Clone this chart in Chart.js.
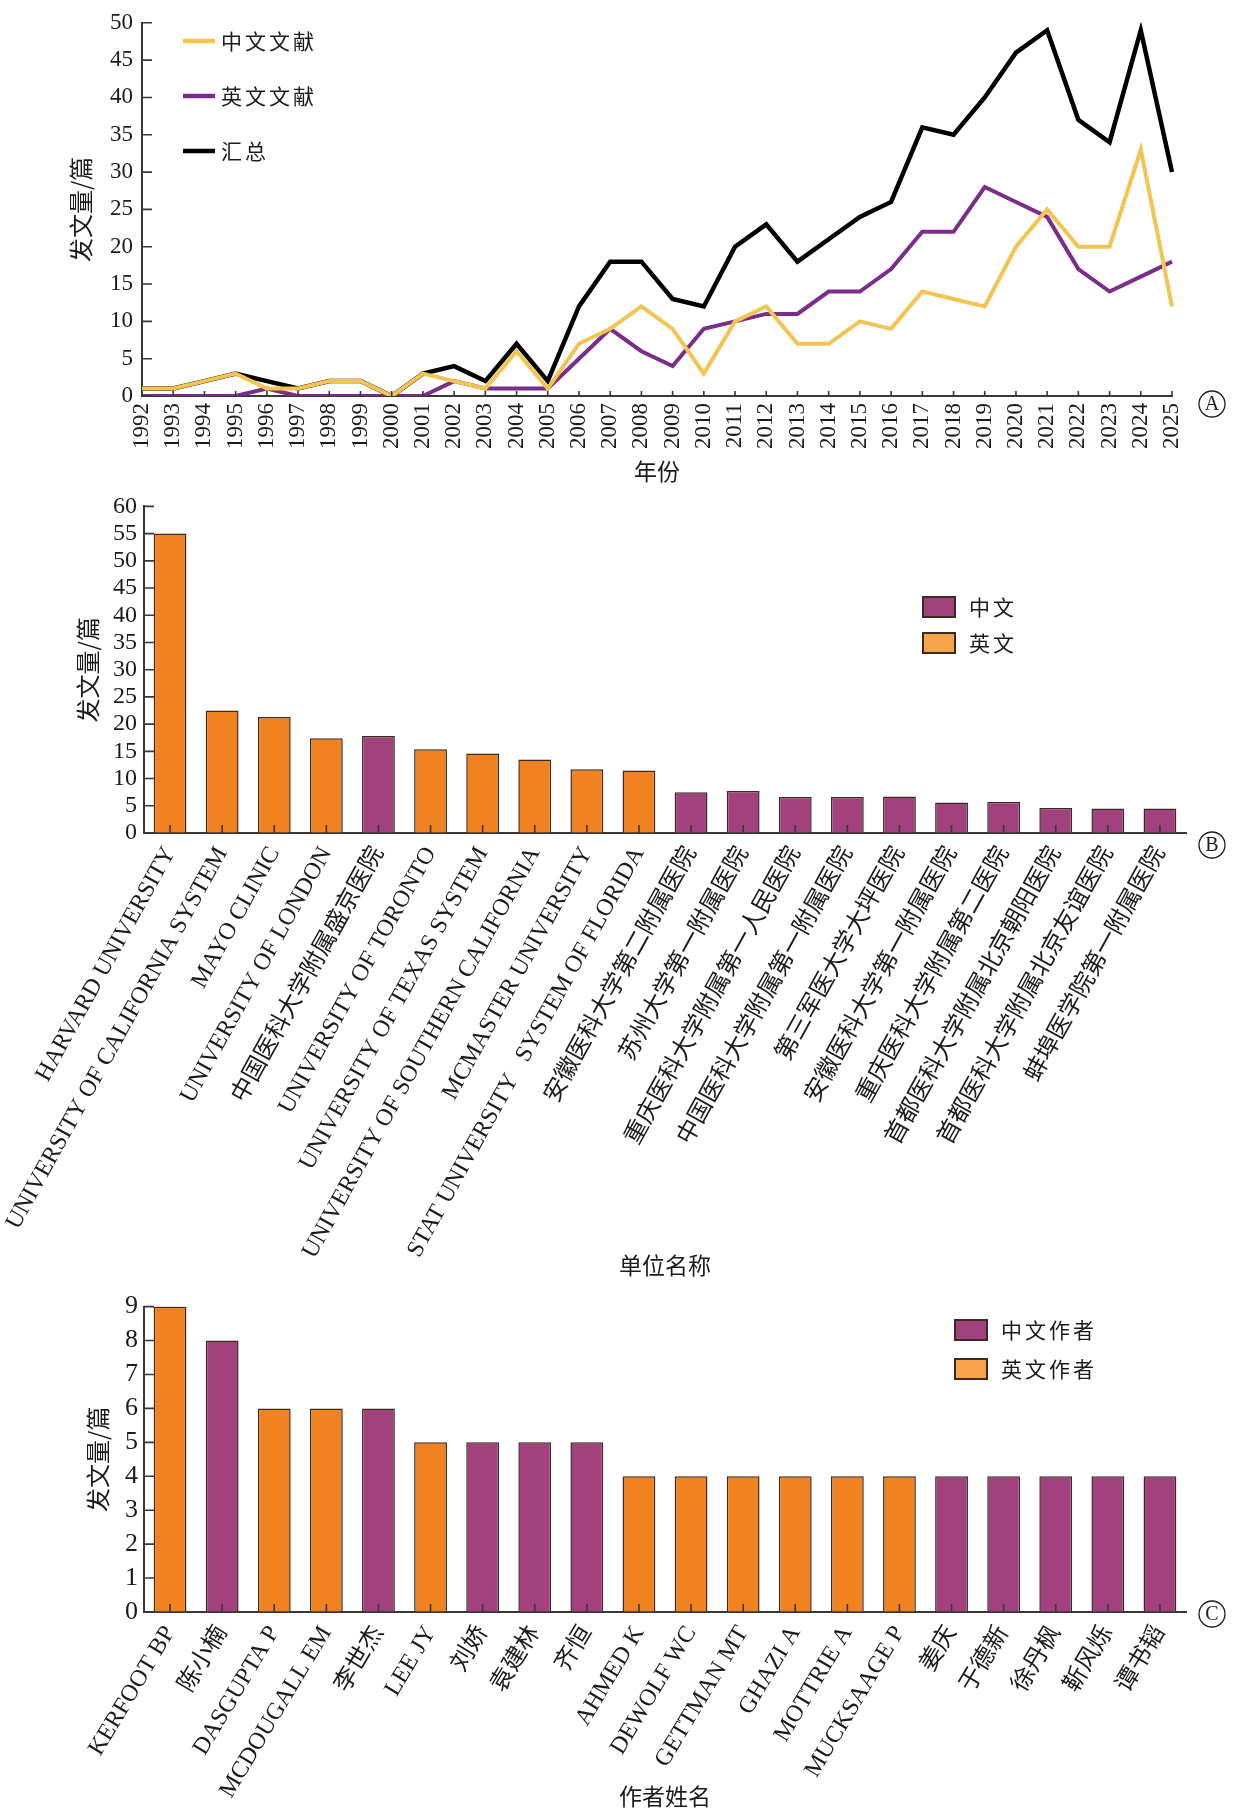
<!DOCTYPE html>
<html>
<head>
<meta charset="utf-8">
<script src="https://cdn.jsdelivr.net/npm/chart.js@4.4.1/dist/chart.umd.min.js"></script>
<style>
  html, body { margin: 0; padding: 0; background: #fff; }
  #page { position: relative; width: 1234px; height: 1812px; }
  .panel { position: absolute; left: 0; width: 1234px; }
</style>
</head>
<body>
<div id="page">
  <div class="panel" style="top:0;height:485px"><canvas id="chartA"></canvas></div>
  <div class="panel" style="top:485px;height:800px"><canvas id="chartB"></canvas></div>
  <div class="panel" style="top:1285px;height:527px"><canvas id="chartC"></canvas></div>
</div>
<script>
// ---- data ----
const years = ['1992','1993','1994','1995','1996','1997','1998','1999','2000','2001','2002','2003',
  '2004','2005','2006','2007','2008','2009','2010','2011','2012','2013','2014','2015','2016',
  '2017','2018','2019','2020','2021','2022','2023','2024','2025'];
const cnPapers = [1,1,2,3,1,1,2,2,0,3,2,1,6,1,7,9,12,9,3,10,12,7,7,10,9,14,13,12,20,25,20,20,33,12];
const enPapers = [0,0,0,0,1,0,0,0,0,0,2,1,1,1,5,9,6,4,9,10,11,11,14,14,17,22,22,28,26,24,17,14,16,18];
const totalPapers = [1,1,2,3,2,1,2,2,0,3,4,2,7,2,12,18,18,13,12,20,23,18,21,24,26,36,35,40,46,49,37,34,49,30];

const orgNames = ['HARVARD UNIVERSITY','UNIVERSITY OF CALIFORNIA SYSTEM','MAYO CLINIC','UNIVERSITY OF LONDON',
  '中国医科大学附属盛京医院','UNIVERSITY OF TORONTO','UNIVERSITY OF TEXAS SYSTEM','UNIVERSITY OF SOUTHERN CALIFORNIA',
  'MCMASTER UNIVERSITY','STAT UNIVERSITY   SYSTEM OF FLORIDA','安徽医科大学第二附属医院','苏州大学第一附属医院',
  '重庆医科大学附属第一人民医院','中国医科大学附属第一附属医院','第三军医大学大坪医院','安徽医科大学第一附属医院',
  '重庆医科大学附属第二医院','首都医科大学附属北京朝阳医院','首都医科大学附属北京友谊医院','蚌埠医学院第一附属医院'];
const orgCounts = [55,22.5,21.3,17.4,17.8,15.4,14.6,13.5,11.7,11.5,7.5,7.7,6.6,6.6,6.7,5.6,5.7,4.6,4.5,4.5];
const orgLang = ['en','en','en','en','cn','en','en','en','en','en','cn','cn','cn','cn','cn','cn','cn','cn','cn','cn'];

const authorNames = ['KERFOOT BP','陈小楠','DASGUPTA P','MCDOUGALL EM','李世杰','LEE JY','刘娇','袁建林','齐恒',
  'AHMED K','DEWOLF WC','GETTMAN MT','GHAZI A','MOTTRIE A','MUCKSAAGE P','姜庆','于德新','徐丹枫','靳风烁','谭书韬'];
const authorCounts = [9,8,6,6,6,5,5,5,5,4,4,4,4,4,4,4,4,4,4,4];
const authorLang = ['en','cn','en','en','cn','en','cn','cn','cn','en','en','en','en','en','en','cn','cn','cn','cn','cn'];

// ---- styling ----
const SERIF = '"Liberation Serif", "Noto Sans CJK SC", serif';
const CJK = '"Noto Sans CJK SC", sans-serif';
const INK = '#1e1a1b';
const AXIS = '#383838';
const YELLOW = '#f3c550', VIOLET = '#7b2d8b', BLACK = '#000000';
const ORANGE = '#f0821f', PLUM = '#a3417f', ORANGE_KEY = '#f6a54a', EDGE = '#3b2a22';

Chart.defaults.font.family = SERIF;
Chart.defaults.color = INK;
Chart.defaults.animation = false;

// inward tick marks, drawn over the bars
const inTicks = {
  id: 'inTicks',
  afterDatasetsDraw(chart, args, opts) {
    const { ctx, chartArea: a, scales: { x, y } } = chart;
    ctx.save();
    ctx.strokeStyle = AXIS;
    ctx.lineWidth = 1.6;
    ctx.beginPath();
    x.ticks.forEach((t, i) => {
      const px = x.getPixelForTick(i);
      ctx.moveTo(px, a.bottom);
      ctx.lineTo(px, a.bottom - opts.xLen);
    });
    y.ticks.forEach((t, i) => {
      const py = y.getPixelForTick(i);
      ctx.moveTo(a.left, py);
      ctx.lineTo(a.left + opts.yLen, py);
    });
    ctx.stroke();
    ctx.restore();
  }
};

// legend placed inside the plot
const keyBox = {
  id: 'keyBox',
  afterDraw(chart, args, opts) {
    const { ctx } = chart;
    ctx.save();
    ctx.font = '21px ' + CJK;
    ctx.textBaseline = 'middle';
    ctx.fillStyle = INK;
    if ('letterSpacing' in ctx) ctx.letterSpacing = '3px';
    chart.data.datasets.forEach((ds, i) => {
      const cy = opts.y + i * opts.gap;
      if (opts.kind === 'line') {
        ctx.strokeStyle = ds.borderColor;
        ctx.lineWidth = 4.5;
        ctx.beginPath();
        ctx.moveTo(opts.x, cy);
        ctx.lineTo(opts.x + 32, cy);
        ctx.stroke();
        ctx.fillText(ds.label, opts.x + 38, cy);
      } else {
        ctx.fillStyle = opts.fills[i];
        ctx.fillRect(opts.x, cy - 10, 32, 20);
        ctx.strokeStyle = EDGE;
        ctx.lineWidth = 2;
        ctx.strokeRect(opts.x, cy - 10, 32, 20);
        ctx.fillStyle = INK;
        ctx.fillText(ds.label, opts.x + 46, cy);
      }
    });
    ctx.restore();
  }
};

// circled panel letter
const panelTag = {
  id: 'panelTag',
  afterDraw(chart, args, opts) {
    const { ctx, chartArea: a } = chart;
    const cx = a.right + opts.dx, cy = a.bottom + opts.dy;
    ctx.save();
    ctx.strokeStyle = INK;
    ctx.lineWidth = 1.3;
    ctx.beginPath();
    ctx.arc(cx, cy, 13, 0, Math.PI * 2);
    ctx.stroke();
    ctx.fillStyle = INK;
    ctx.font = '20px "Liberation Serif"';
    ctx.textAlign = 'center';
    ctx.textBaseline = 'middle';
    ctx.fillText(opts.text, cx, cy + 1);
    ctx.restore();
  }
};

function axisY(max, step, width, titlePad, tickSize, tickPad) {
  return {
    min: 0, max: max,
    ticks: { stepSize: step, autoSkip: false, color: INK, padding: tickPad,
      font: { family: SERIF, size: tickSize } },
    grid: { display: true, drawOnChartArea: false, drawTicks: false },
    border: { color: AXIS, width: 2 },
    title: { display: true, text: '发文量/篇', color: INK, font: { family: CJK, size: 24 },
      padding: { top: titlePad, bottom: 0 } },
    afterFit: s => { s.width = width; }
  };
}

function axisX(title, height, rot, tickSize, tickPad, titlePad) {
  return {
    ticks: { autoSkip: false, minRotation: rot, maxRotation: rot, padding: tickPad, color: INK,
      font: { family: SERIF, size: tickSize } },
    grid: { display: true, drawOnChartArea: false, drawTicks: false },
    border: { color: AXIS, width: 2 },
    title: { display: true, text: title, color: INK, font: { family: CJK, size: 23 },
      padding: { top: 0, bottom: titlePad } },
    afterFit: s => { s.height = height; }
  };
}

// ---- A: yearly output ----
new Chart(document.getElementById('chartA'), {
  type: 'line',
  data: {
    labels: years,
    datasets: [
      { label: '中文文献', data: cnPapers, borderColor: YELLOW, borderWidth: 4, pointRadius: 0, tension: 0 },
      { label: '英文文献', data: enPapers, borderColor: VIOLET, borderWidth: 4, pointRadius: 0, tension: 0 },
      { label: '汇总', data: totalPapers, borderColor: BLACK, borderWidth: 4.5, pointRadius: 0, tension: 0 }
    ]
  },
  options: {
    responsive: true,
    maintainAspectRatio: false,
    layout: { padding: { top: 17, right: 62, left: 0, bottom: 0 } },
    scales: {
      x: axisX('年份', 89, 90, 23, 7, 0),
      y: axisY(50, 5, 142, 66, 23, 9)
    },
    plugins: {
      legend: { display: false },
      tooltip: { enabled: false },
      inTicks: { xLen: 5, yLen: 10 },
      keyBox: { kind: 'line', x: 183, y: 41, gap: 55 },
      panelTag: { text: 'A', dx: 40, dy: 8 }
    }
  },
  plugins: [inTicks, keyBox, panelTag]
});

// ---- B / C: ranked bars, coloured by language ----
function langSeries(values, lang, code) {
  return values.map((v, i) => (lang[i] === code ? v : null));
}

function rankedBars(id, names, counts, lang, keys, opt) {
  new Chart(document.getElementById(id), {
    type: 'bar',
    data: {
      labels: names,
      datasets: [
        { label: keys[0], data: langSeries(counts, lang, 'cn'), backgroundColor: PLUM,
          borderColor: EDGE, borderWidth: 1.5, barPercentage: 0.63, categoryPercentage: 1 },
        { label: keys[1], data: langSeries(counts, lang, 'en'), backgroundColor: ORANGE,
          borderColor: EDGE, borderWidth: 1.5, barPercentage: 0.63, categoryPercentage: 1 }
      ]
    },
    options: {
      responsive: true,
      maintainAspectRatio: false,
      layout: { padding: { top: opt.top, right: 48, left: 0, bottom: 0 } },
      scales: {
        x: Object.assign(axisX(opt.xTitle, opt.xHeight, opt.rot, 24, 9, opt.xTitlePad), { stacked: true }),
        y: Object.assign(axisY(opt.max, opt.step, 144, opt.yTitlePad, opt.yTick, opt.yTickPad), { stacked: true })
      },
      plugins: {
        legend: { display: false },
        tooltip: { enabled: false },
        inTicks: { xLen: 8, yLen: 10 },
        keyBox: { kind: 'box', x: opt.keyX, y: opt.keyY, gap: opt.keyGap, fills: [PLUM, ORANGE_KEY] },
        panelTag: { text: opt.tag, dx: 26, dy: opt.tagDy }
      }
    },
    plugins: [inTicks, keyBox, panelTag]
  });
}

rankedBars('chartB', orgNames, orgCounts, orgLang, ['中文', '英文'], {
  top: 17, xHeight: 452, rot: 61, xTitle: '单位名称', xTitlePad: 6,
  max: 60, step: 5, yTitlePad: 73, yTick: 24, yTickPad: 7,
  keyX: 923, keyY: 122, keyGap: 36, tag: 'B', tagDy: 12
});

rankedBars('chartC', authorNames, authorCounts, authorLang, ['中文作者', '英文作者'], {
  top: 18, xHeight: 200, rot: 59, xTitle: '作者姓名', xTitlePad: 2,
  max: 9, step: 1, yTitlePad: 83, yTick: 26, yTickPad: 6,
  keyX: 955, keyY: 45, keyGap: 39, tag: 'C', tagDy: 2
});
</script>
</body>
</html>
